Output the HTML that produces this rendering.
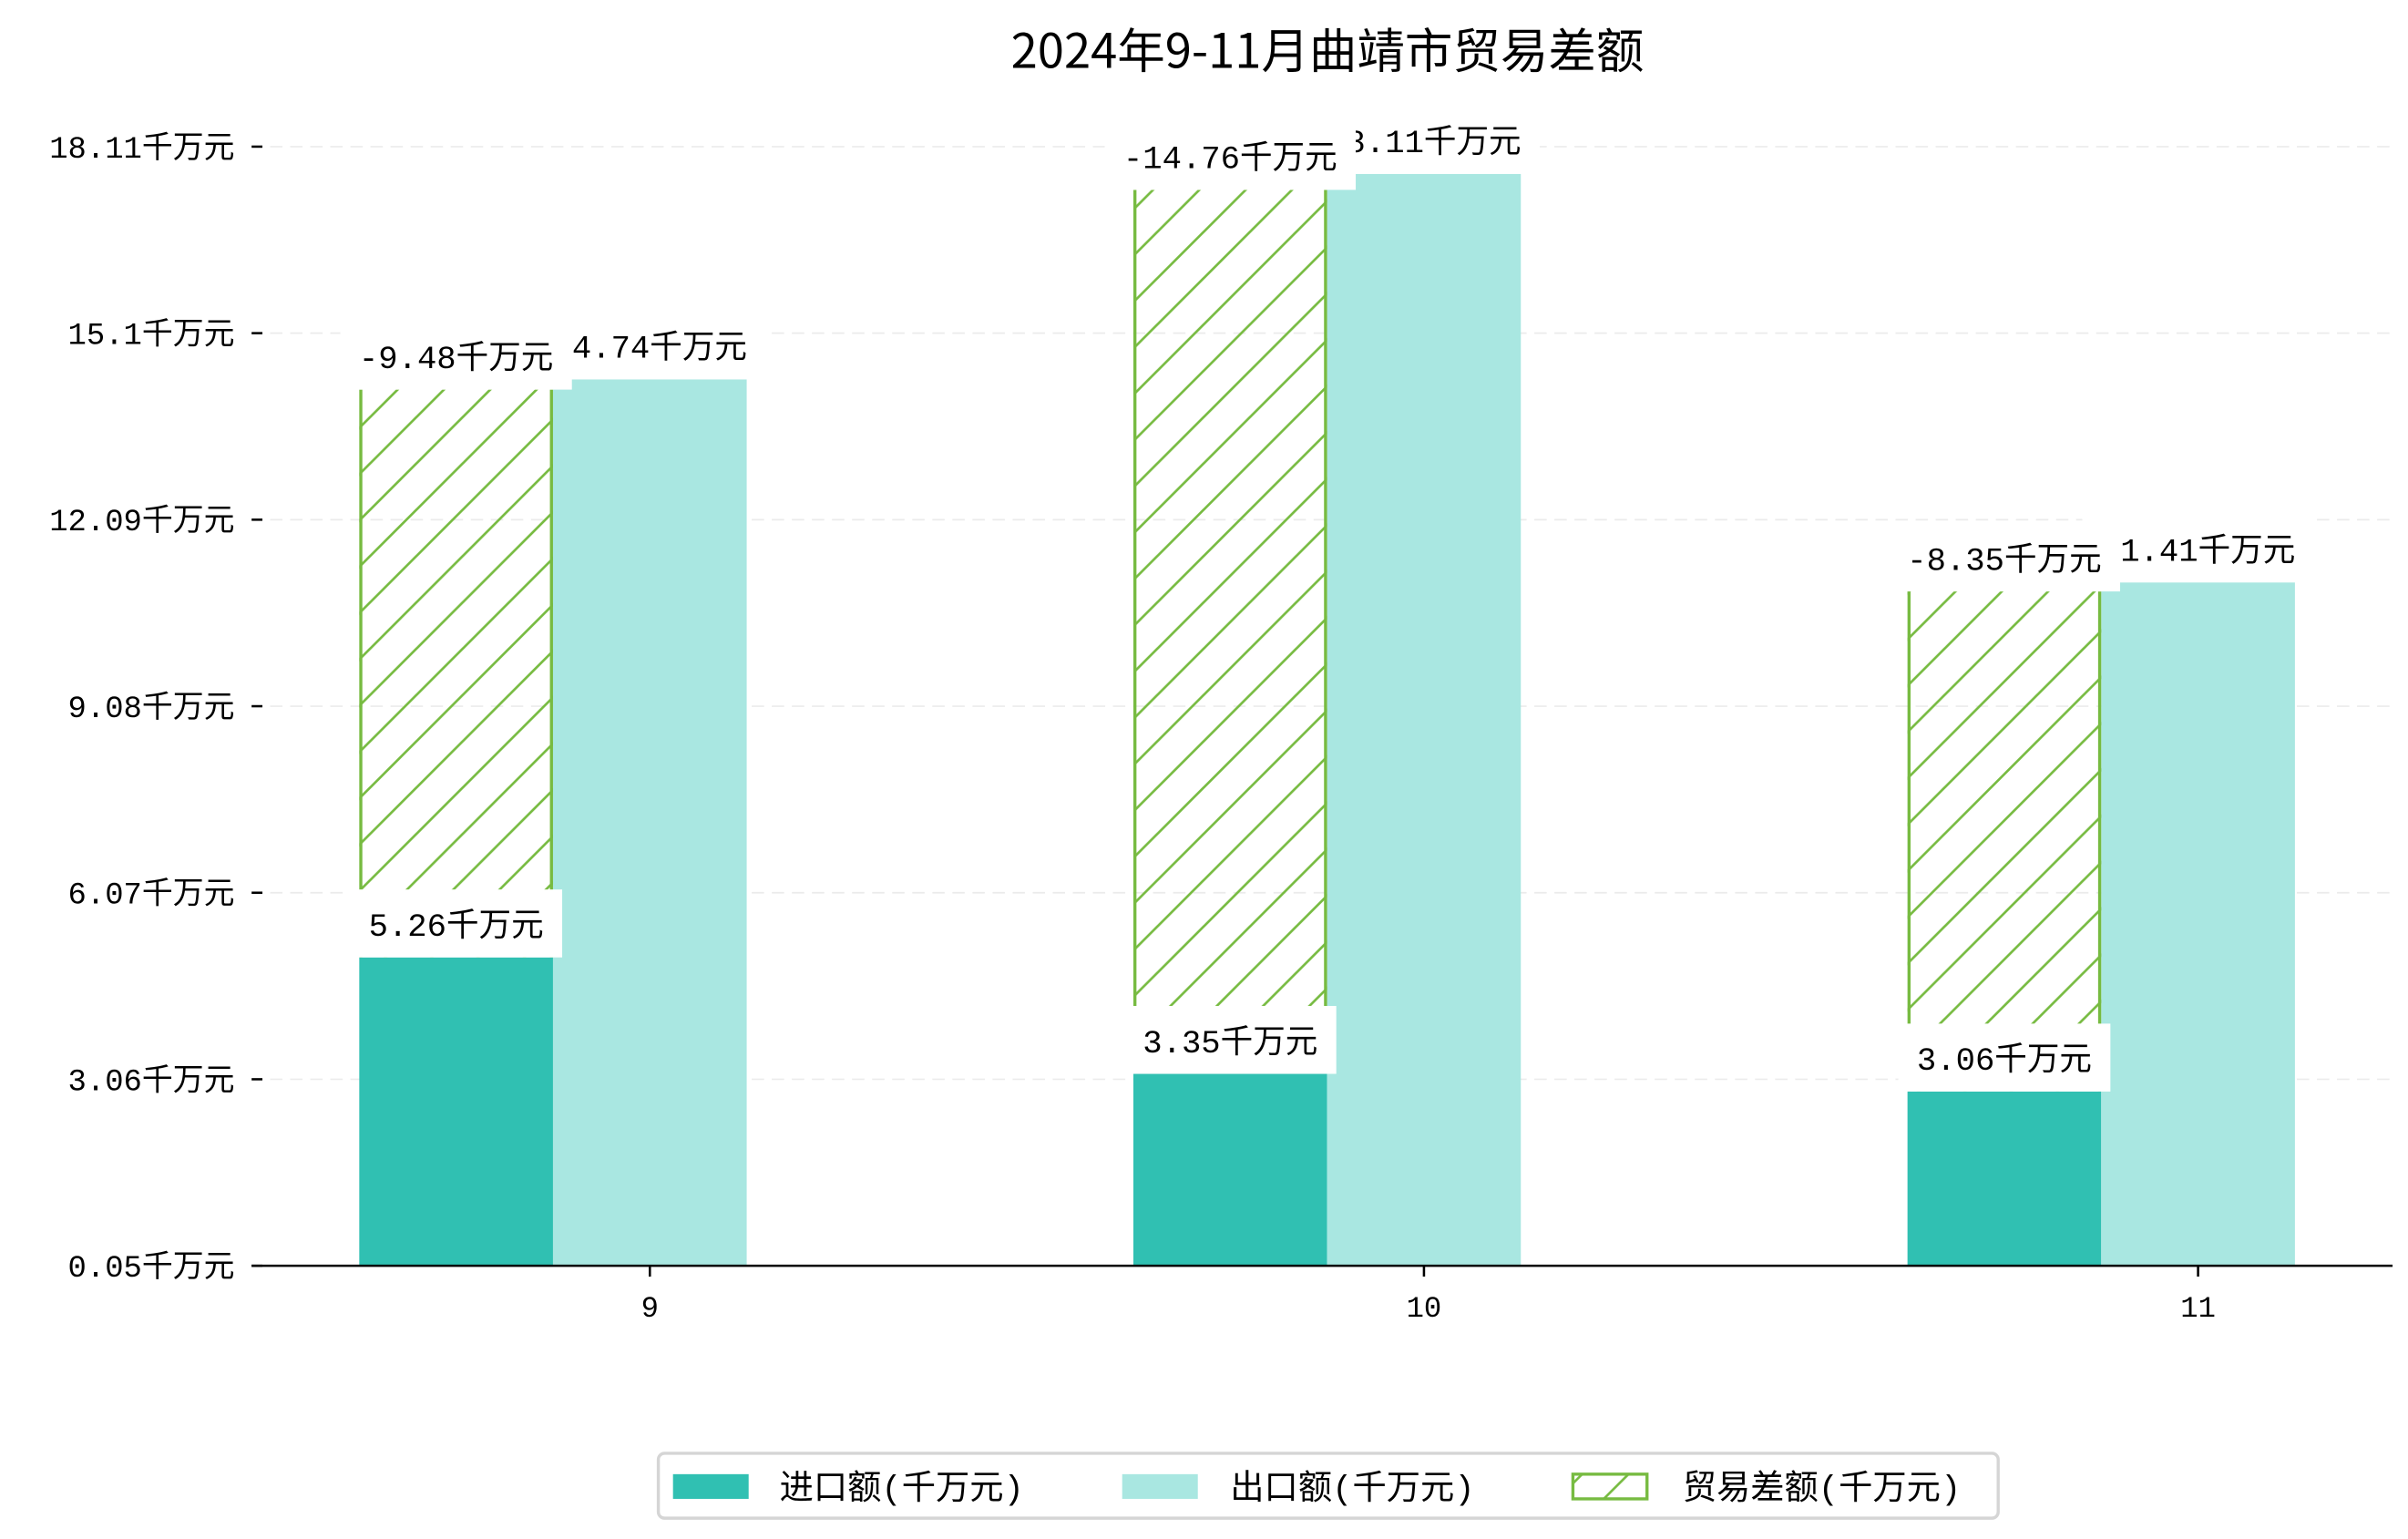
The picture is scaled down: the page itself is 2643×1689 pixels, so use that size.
<!DOCTYPE html>
<html><head><meta charset="utf-8"><style>
html,body{margin:0;padding:0;background:#fff;}
svg{display:block;font-family:"Liberation Mono","WenQuanYi Zen Hei","Noto Sans CJK SC",monospace;}
</style></head><body>
<svg id="chart" width="2643" height="1689" viewBox="0 0 1560 997" preserveAspectRatio="none" xmlns="http://www.w3.org/2000/svg">
<defs>
<pattern id="hatch" patternUnits="userSpaceOnUse" width="30" height="30">
<line x1="-5" y1="35" x2="35" y2="-5" stroke="#77bb41" stroke-width="1.6"/>
<line x1="-35" y1="35" x2="5" y2="-5" stroke="#77bb41" stroke-width="1.6"/>
<line x1="25" y1="35" x2="65" y2="-5" stroke="#77bb41" stroke-width="1.6"/>
</pattern>
</defs>
<text x="860" y="44" text-anchor="middle" font-size="31" fill="#000" style="font-family:'WenQuanYi Zen Hei','Noto Sans CJK SC',sans-serif">2024年9-11月曲靖市贸易差额</text>
<g id="grid"></g>
<g id="bars"></g>
<g id="labels"></g>
<line x1="163" y1="820" x2="1550" y2="820" stroke="#000" stroke-width="1.5"/>
<g id="xticks"></g>
<g>
<rect x="426.5" y="941.5" width="868" height="42" rx="4" fill="#fff" stroke="#d5d5d5" stroke-width="2"/>
<rect x="436" y="955" width="49" height="16" fill="#30c0b2"/>
<text x="505" y="971" font-size="22">进口额(千万元)</text>
<rect x="727" y="955" width="49" height="16" fill="#a9e7e1"/>
<text x="797" y="971" font-size="22">出口额(千万元)</text>
<rect x="1019" y="955" width="48" height="16" fill="url(#hatch)" stroke="#77bb41" stroke-width="2"/>
<text x="1090" y="971" font-size="22">贸易差额(千万元)</text>
</g>
</svg>
<script>
const months = ["9", "10", "11"];
const imports = [5.26, 3.35, 3.06];
const exportsV = [14.74, 18.11, 11.41];
const balances = [-9.48, -14.76, -8.35];
const yTicks = [0.05, 3.06, 6.07, 9.08, 12.09, 15.1, 18.11];

const NS = "http://www.w3.org/2000/svg";
const base = 820;
function yTick(v){ return base - (v - 0.05) * 725 / 18.06; }
function hBar(v){ return Math.max(0, v * 39.5 - 8); }
function hDiff(v){ return Math.abs(v) * 38.8; }
function xGroup(i){ return 421 + i * 501.5; }
const bw = 125.5;
const FS = 21;
function mk(tag, attrs, parent){ const e=document.createElementNS(NS,tag); for(const k in attrs) e.setAttribute(k,attrs[k]); parent.appendChild(e); return e; }
const grid=document.getElementById('grid'), bars=document.getElementById('bars'), labels=document.getElementById('labels'), xt=document.getElementById('xticks');

yTicks.forEach((v,i)=>{
  const y=yTick(v);
  if(i>0){ const g=mk('line',{x1:175,y1:y,x2:1550,y2:y,stroke:'#ebebeb','stroke-dasharray':'8,5','stroke-width':1},grid);
    
     }
  const t=mk('line',{x1:163,y1:y,x2:170,y2:y,stroke:'#000','stroke-width':1.5},xt);
  
  
  const l=mk('text',{x:152,y:y+7,'text-anchor':'end','font-size':20},xt);
  l.textContent=v+'千万元';
  
  
});

function label(text,cx,y,parent,name){
  const cjk=(text.match(/[千万元]/g)||[]).length;
  const w=(text.length-cjk)*0.6*FS + cjk*FS;
  const r=mk('rect',{x:cx-w/2-12,y:y-23,width:w+24,height:44,fill:'#fff'},parent);
  
  
  const t=mk('text',{x:cx,y:y+7,'text-anchor':'middle','font-size':FS},parent);
  t.textContent=text;
  
  
}

months.forEach((m,i)=>{
  const cx=xGroup(i), xi=cx-1.5*bw, xe=cx-bw/2;
  const hi=hBar(imports[i]), he=hBar(exportsV[i]), hb=hDiff(balances[i]);
  const bi=mk('rect',{x:xi,y:base-hi,width:bw,height:hi,fill:'#30c0b2'},bars);
  
  
  const be=mk('rect',{x:xe,y:base-he,width:bw,height:he,fill:'#a9e7e1'},bars);
  
  
  const bb=mk('rect',{x:xi,y:base-hi-hb,width:bw,height:hb,fill:'url(#hatch)'},bars);
  
  
  const l1=mk('line',{x1:xi+1,y1:base-hi-hb,x2:xi+1,y2:base-hi,stroke:'#77bb41','stroke-width':2},bars);
  
  
  const l2=mk('line',{x1:xi+bw-1,y1:base-hi-hb,x2:xi+bw-1,y2:base-hi,stroke:'#77bb41','stroke-width':2},bars);
  
  
  label(exportsV[i].toFixed(2)+'千万元',xe+bw/2,base-he-21,labels,'export-value-label');
  label(balances[i].toFixed(2)+'千万元',xi+bw/2,base-hi-hb-21,labels,'balance-value-label');
  label(imports[i].toFixed(2)+'千万元',xi+bw/2,base-hi-21,labels,'import-value-label');
  const tk=mk('line',{x1:cx,y1:820,x2:cx,y2:827,stroke:'#000','stroke-width':1.5},xt);
  
  
  const tl=mk('text',{x:cx,y:853,'text-anchor':'middle','font-size':19},xt);
  tl.textContent=m;
  
  
});
</script>
</body></html>
